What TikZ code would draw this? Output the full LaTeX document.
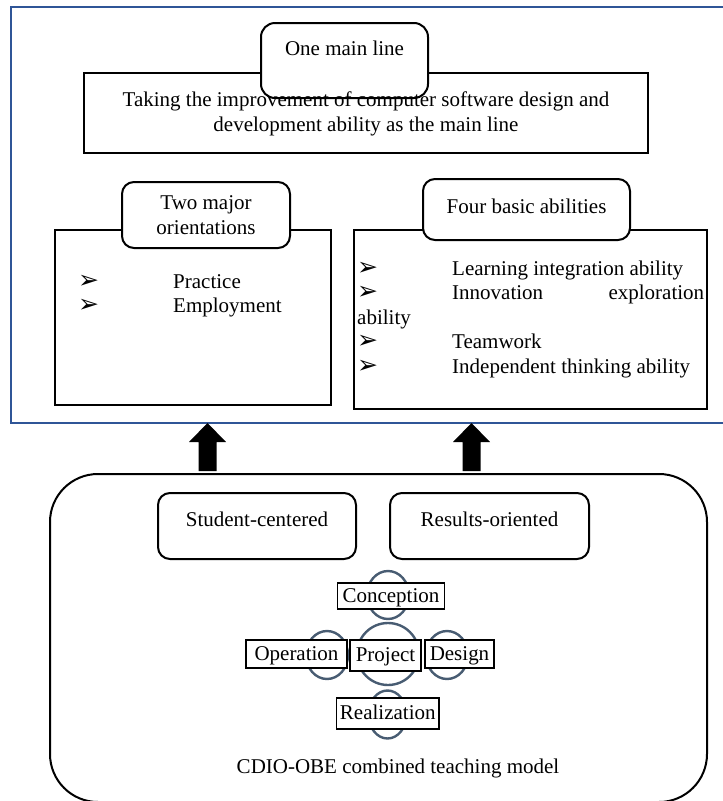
\documentclass[tikz,border=0pt]{standalone}
\usepackage{fontspec}
\setmainfont{Liberation Serif}
\newfontfamily\bulletfont{DejaVu Sans}
\definecolor{bluecol}{RGB}{47,85,151}
\definecolor{circcol}{RGB}{72,92,114}
\tikzset{
  sqbox/.style={draw=black, line width=2pt, fill=white, inner sep=0pt, outer sep=0pt},
  rbox/.style={draw=black, line width=2pt, fill=white, rounded corners=12pt, inner sep=0pt, outer sep=0pt, align=center},
  lbl/.style={draw=black, line width=1.1pt, fill=white, inner sep=0pt, text height=16pt, text depth=4pt},
  ring/.style={draw=circcol, line width=2.4pt},
  blockarrow/.pic={\fill[black] (0,0) -- (18.5,19) -- (9,19) -- (9,48) -- (-9,48) -- (-9,19) -- (-18.5,19) -- cycle;},
}
\newcommand{\bul}{\makebox[95pt][l]{\smash{\bulletfont\fontsize{25}{25}\selectfont ➢}}}
\begin{document}
\begin{tikzpicture}[x=1pt,y=-1pt,font=\fontsize{21}{24.5}\selectfont]
\useasboundingbox (0,0) rectangle (723,801);
\fill[white] (0,0) rectangle (723,801);

% outer blue frame
\node[draw=bluecol, line width=2.6pt, minimum width=716pt, minimum height=416pt, inner sep=0pt, outer sep=0pt] (frame) at (369,215) {};

% main line
\node[sqbox, minimum width=564pt, minimum height=80pt] (main) at (366,113) {};
\node[rbox, rounded corners=14pt, minimum width=167pt, minimum height=75pt, text height=8pt, text depth=19pt] (hmain) at (344.5,60.5) {One main line};
\node[align=center, inner sep=0pt] (maintext) at (366,114)
  {Taking the improvement of computer software design and\\development ability as the main line};

% two major orientations
\node[sqbox, minimum width=276pt, minimum height=175pt] (two) at (193,317.5) {};
\node[rbox, minimum width=168pt, minimum height=66pt] (htwo) at (206,215) {Two major\\orientations};
\node[anchor=base west, inner sep=0pt] (twolist) at (78,288)
  {\parbox[t]{240pt}{\bul Practice\\\bul Employment}};

% four basic abilities
\node[sqbox, minimum width=353pt, minimum height=179pt] (four) at (530.5,319.5) {};
\node[rbox, minimum width=207pt, minimum height=61pt, text height=14pt, text depth=7pt] (hfour) at (526.5,209.5) {Four basic abilities};
\node[anchor=base west, inner sep=0pt] (fourlist) at (357,275)
  {\parbox[t]{347pt}{\bul Learning integration ability\\\bul Innovation\hfill exploration\\ability\\\bul Teamwork\\\bul Independent thinking ability}};

% bottom model box
\node[draw=black, line width=2pt, rounded corners=48pt, minimum width=657pt, minimum height=328pt, inner sep=0pt, outer sep=0pt] (model) at (378.5,638) {};
\node[rbox, minimum width=198pt, minimum height=66pt, text height=14pt, text depth=14pt] (student) at (257,526) {Student-centered};
\node[rbox, minimum width=199pt, minimum height=66pt, text height=14pt, text depth=14pt] (results) at (489.5,526) {Results-oriented};

% arrows
\coordinate (a1) at (207.5,450);
\coordinate (a2) at (471.5,450);
\pic at (frame.south -| a1) {blockarrow};
\pic at (frame.south -| a2) {blockarrow};

% CDIO rings
\draw[ring] (388,595) ellipse [x radius=21pt, y radius=24pt];
\draw[ring] (388,654) circle [radius=31pt];
\draw[ring] (327,655) ellipse [x radius=21pt, y radius=24pt];
\draw[ring] (447,655) ellipse [x radius=21pt, y radius=24pt];
\draw[ring] (387.5,714.5) ellipse [x radius=19pt, y radius=24pt];

\node[lbl, minimum width=107.5pt, minimum height=26pt] (conc) at (391,596) {Conception};
\node[lbl, minimum width=101pt, minimum height=28pt] (oper) at (296.5,654) {Operation};
\node[lbl, minimum width=71pt, minimum height=31pt] (proj) at (385.5,655.5) {Project};
\node[lbl, minimum width=69pt, minimum height=28pt] (desi) at (459.5,654) {Design};
\node[lbl, minimum width=102.5pt, minimum height=31pt] (real) at (387.75,713.5) {Realization};

\node[inner sep=0pt] (caption) at (398,768) {CDIO-OBE combined teaching model};
\end{tikzpicture}
\end{document}
